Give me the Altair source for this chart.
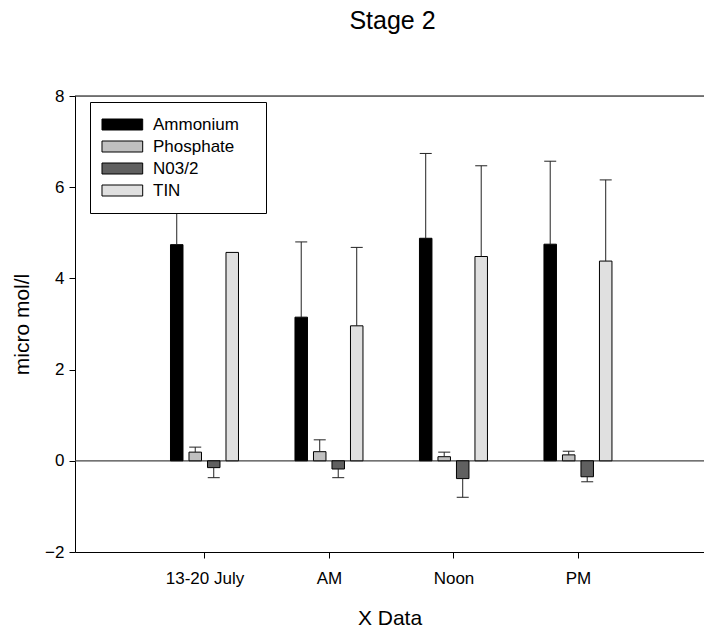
import altair as alt
import pandas as pd

groups = ["13-20 July", "AM", "Noon", "PM"]
series = ["Ammonium", "Phosphate", "N03/2", "TIN"]
colors = ["#000000", "#c0c0c0", "#606060", "#e0e0e0"]

ammonium = [4.74, 3.15, 4.88, 4.75]
ammonium_err = [6.2, 4.8, 6.74, 6.57]
phosphate = [0.19, 0.20, 0.09, 0.13]
phosphate_err = [0.30, 0.46, 0.19, 0.21]
nitrate = [-0.15, -0.18, -0.39, -0.35]
nitrate_err = [-0.37, -0.37, -0.80, -0.46]
tin = [4.57, 2.96, 4.48, 4.38]
tin_err = [4.57, 4.68, 6.47, 6.16]

vals = [ammonium, phosphate, nitrate, tin]
errs = [ammonium_err, phosphate_err, nitrate_err, tin_err]

rows = []
for j, s in enumerate(series):
    for i, g in enumerate(groups):
        rows.append({"group": g, "gi": i + 1, "series": s, "si": j,
                     "value": vals[j][i], "err": errs[j][i]})
df = pd.DataFrame(rows)

W, H = 629, 456
xscale = alt.Scale(domain=[0, W / 126.5], nice=False, zero=False)
yscale = alt.Scale(domain=[-2, 8], nice=False, zero=False)

label_expr = "datum.value == 1 ? '13-20 July' : datum.value == 2 ? 'AM' : datum.value == 3 ? 'Noon' : datum.value == 4 ? 'PM' : ''"

base = alt.Chart(df).transform_calculate(
    xpos="datum.gi + (datum.si - 1.5) * 0.1486"
)

xenc = alt.X("xpos:Q", scale=xscale,
             axis=alt.Axis(values=[1, 2, 3, 4], labelExpr=label_expr, title="X Data",
                           grid=False, domainColor="#000", tickColor="#000",
                           tickSize=6, labelPadding=12, labelFontSize=17,
                           titleFontSize=21, titleFontWeight="normal", titlePadding=21,
                           labelColor="#000", titleColor="#000", labelFlush=False))

bars = base.mark_bar(width=12.5, stroke="#000", strokeWidth=1).encode(
    x=xenc,
    y=alt.Y("value:Q", scale=yscale,
            axis=alt.Axis(values=[-2, 0, 2, 4, 6, 8], title="micro mol/l", grid=False,
                          domainColor="#000", tickColor="#000", tickSize=6,
                          labelPadding=5, labelFontSize=17, titleFontSize=21,
                          titleFontWeight="normal", titlePadding=12,
                          labelColor="#000", titleColor="#000")),
    y2=alt.datum(0),
    fill=alt.Fill("series:N", scale=alt.Scale(domain=series, range=colors),
                  legend=alt.Legend(orient="none", legendX=15, legendY=6, title=" ",
                                    titleOrient="right", titlePadding=13,
                                    symbolType="M-1.91,-1H5.49V1H-1.91Z", symbolSize=121,
                                    symbolStrokeColor="#000", symbolStrokeWidth=1,
                                    labelFontSize=17, labelOffset=32, labelColor="#000",
                                    strokeColor="#000", fillColor="#fff", padding=14,
                                    rowPadding=4, symbolOpacity=1)),
)

errbase = base.transform_filter("datum.err != datum.value")

rules = errbase.mark_rule(color="#222", strokeWidth=1).encode(
    x=alt.X("xpos:Q", scale=xscale),
    y=alt.Y("value:Q", scale=yscale),
    y2="err:Q",
)
caps = errbase.mark_tick(orient="horizontal", size=12, thickness=1, color="#222", opacity=1).encode(
    x=alt.X("xpos:Q", scale=xscale),
    y=alt.Y("err:Q", scale=yscale),
)

zero = alt.Chart(pd.DataFrame({"z": [0]})).mark_rule(color="#444", strokeWidth=1.2).encode(
    y=alt.Y("z:Q", scale=yscale), x=alt.value(0), x2=alt.value(W)
)
top = alt.Chart(pd.DataFrame({"t": [8]})).mark_rule(color="#000", strokeWidth=1).encode(
    y=alt.Y("t:Q", scale=yscale), x=alt.value(0), x2=alt.value(W)
)

chart = alt.layer(zero, top, bars, rules, caps).properties(
    width=W, height=H,
    title=alt.TitleParams("Stage 2", fontSize=25, fontWeight="normal", color="#000",
                          offset=53, frame="group", dx=3, anchor="middle"),
    autosize=alt.AutoSizeParams(type="none"),
    padding={"left": 75, "top": 96, "right": 0, "bottom": 77},
).configure_view(stroke=None).configure(
    font="Liberation Sans"
)

chart.save("out.html", embed_options={"renderer": "svg", "actions": False})
